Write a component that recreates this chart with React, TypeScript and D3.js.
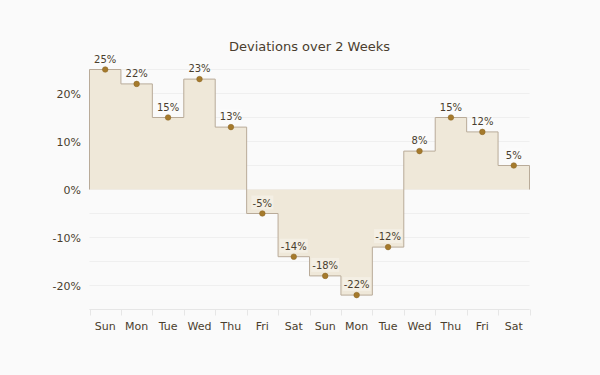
import React from "react";
import * as d3 from "d3";

const days = ["Sun", "Mon", "Tue", "Wed", "Thu", "Fri", "Sat", "Sun", "Mon", "Tue", "Wed", "Thu", "Fri", "Sat"];
const values = [25, 22, 15, 23, 13, -5, -14, -18, -22, -12, 8, 15, 12, 5];
const yTicks = [-20, -10, 0, 10, 20];
const gridTicks = [-25, -20, -15, -10, -5, 0, 5, 10, 15, 20, 25];
const title = "Deviations over 2 Weeks";

const W = 600, H = 375;
const left = 89.5, right = 529.5, top = 69.5, bottom = 309.5;
const font = "DejaVu Sans, Verdana, sans-serif";

export default function App() {
  const idx = d3.range(values.length);
  const x = d3.scaleBand<number>().domain(idx).range([left, right]).padding(0);
  const y = d3.scaleLinear().domain([-25, 25]).range([bottom, top]);
  const bw = x.bandwidth();

  const pts: [number, number][] = [];
  idx.forEach((i) => {
    pts.push([x(i)!, values[i]]);
    pts.push([x(i)! + bw, values[i]]);
  });
  const area = d3.area<[number, number]>().x((d) => d[0]).y0(y(0)).y1((d) => y(d[1]));
  const line = d3.line<[number, number]>().x((d) => d[0]).y((d) => y(d[1]));
  const outline: [number, number][] = [[left, 0], ...pts, [right, 0]];

  return (
    <svg width={W} height={H} style={{ display: "block", position: "absolute", left: 0, top: 0, background: "#fafafa" }}>
      <rect x={0} y={0} width={W} height={H} fill="#fafafa" />
      <text x={(left + right) / 2} y={51} textAnchor="middle" fontFamily={font} fontSize={13} fill="#4a3e2e">{title}</text>
      {gridTicks.map((t) => (
        <line key={t} x1={left} x2={right} y1={y(t)} y2={y(t)} stroke="#efefef" strokeWidth={1} />
      ))}
      <path d={area(pts)!} fill="#efe8d9" />
      <path d={line(outline)!} fill="none" stroke="#b9ab99" strokeWidth={1} />
      {/* x axis */}
      <line x1={left} x2={right} y1={bottom} y2={bottom} stroke="#e6e6e6" />
      {d3.range(values.length + 1).map((i) => {
        const xx = Math.round(left + i * bw) + 0.5;
        return <line key={i} x1={xx} x2={xx} y1={bottom} y2={bottom + 6} stroke="#e6e6e6" />;
      })}
      {days.map((d, i) => (
        <text key={i} x={x(i)! + bw / 2} y={330} textAnchor="middle" fontFamily={font} fontSize={11} fill="#4a3e2e">{d}</text>
      ))}
      {yTicks.map((t) => (
        <text key={t} x={81} y={y(t) + 4} textAnchor="end" fontFamily={font} fontSize={11} fill="#4a3e2e">{t}%</text>
      ))}
      {values.map((v, i) => {
        const cx = x(i)! + bw / 2;
        const cy = y(v);
        const label = `${v}%`;
        const tw = label.length * 6 + 4;
        return (
          <g key={i}>
            <rect x={cx - tw / 2} y={cy - 18} width={tw} height={14} fill="#ffffff" opacity={0.3} />
            <text x={cx} y={cy - 7} textAnchor="middle" fontFamily={font} fontSize={10} fill="#4a3e2e">{label}</text>
            <circle cx={cx} cy={cy} r={2.8} fill="#a57a2c" stroke="#8a6524" strokeWidth={0.5} />
          </g>
        );
      })}
    </svg>
  );
}
